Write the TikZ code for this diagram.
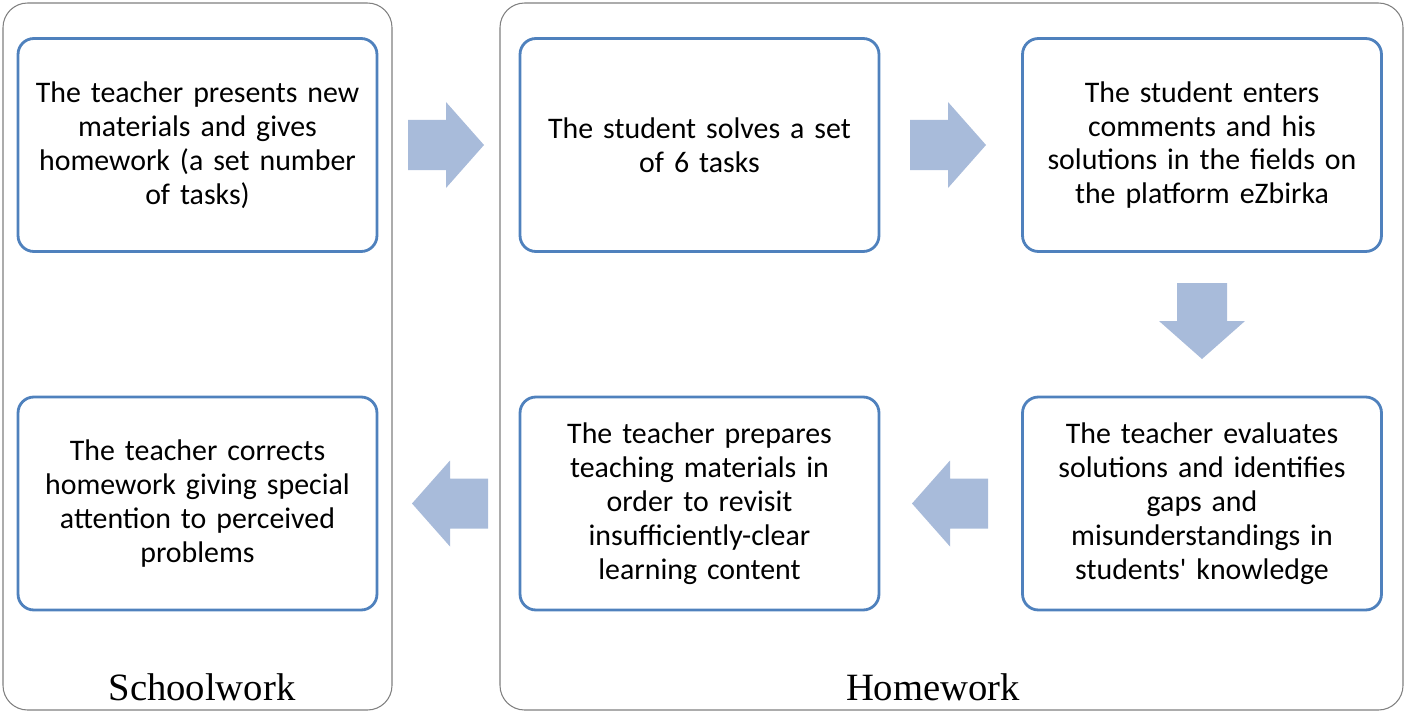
\documentclass[tikz,border=0pt]{standalone}
\usepackage{fontspec}
\setmainfont{Carlito}
\newfontfamily\labelfont{Liberation Serif}
\definecolor{boxblue}{RGB}{79,129,189}
\definecolor{arrowblue}{RGB}{168,187,218}
\definecolor{framegray}{RGB}{128,128,128}

\begin{document}
\begin{tikzpicture}[x=0.02cm,y=-0.02cm,
  task node/.style={draw=boxblue,line width=1.6pt,rounded corners=9pt,
    minimum width=7.18cm,minimum height=4.26cm,text width=6.8cm,align=center,
    font=\fontsize{17}{19.3}\selectfont},
  flow arrow/.pic={\fill[arrowblue] (-38,-25) -- (0,-25) -- (0,-43) -- (38,0)
    -- (0,43) -- (0,25) -- (-38,25) -- cycle;},
  frame/.style={draw=framegray,line width=0.6pt,rounded corners=14pt},
  frame label/.style={font=\labelfont\fontsize{22}{26}\selectfont}]

  \useasboundingbox (0,0) rectangle (1406,713);
  \draw[frame] (3,3) rectangle (392,710);
  \draw[frame] (500,3) rectangle (1403,710);
  \node[frame label] (school) at (202,687) {Schoolwork};
  \node[frame label] (home) at (933,687) {Homework};

  \node[task node] (s1) at (197.5,145)
    {The teacher presents new\\materials and gives\\homework (a set number\\of tasks)};
  \node[task node] (s2) at (197.5,503.5)
    {The teacher corrects\\homework giving special\\attention to perceived\\problems};
  \node[task node] (h1) at (699.5,145)
    {The student solves a set\\of 6 tasks};
  \node[task node] (h2) at (1202,145)
    {The student enters\\comments and his\\solutions in the fields on\\the platform eZbirka};
  \node[task node] (h3) at (1202,503.5)
    {The teacher evaluates\\solutions and identifies\\gaps and\\misunderstandings in\\students\textquotesingle{} knowledge};
  \node[task node] (h4) at (699.5,503.5)
    {The teacher prepares\\teaching materials in\\order to revisit\\insufficiently-clear\\learning content};

  \pic at (446,145) {flow arrow};
  \pic at (948,145) {flow arrow};
  \pic[rotate=-90] at (1202,321) {flow arrow};
  \pic[rotate=180] at (950,503.5) {flow arrow};
  \pic[rotate=180] at (450,503.5) {flow arrow};

\end{tikzpicture}
\end{document}
